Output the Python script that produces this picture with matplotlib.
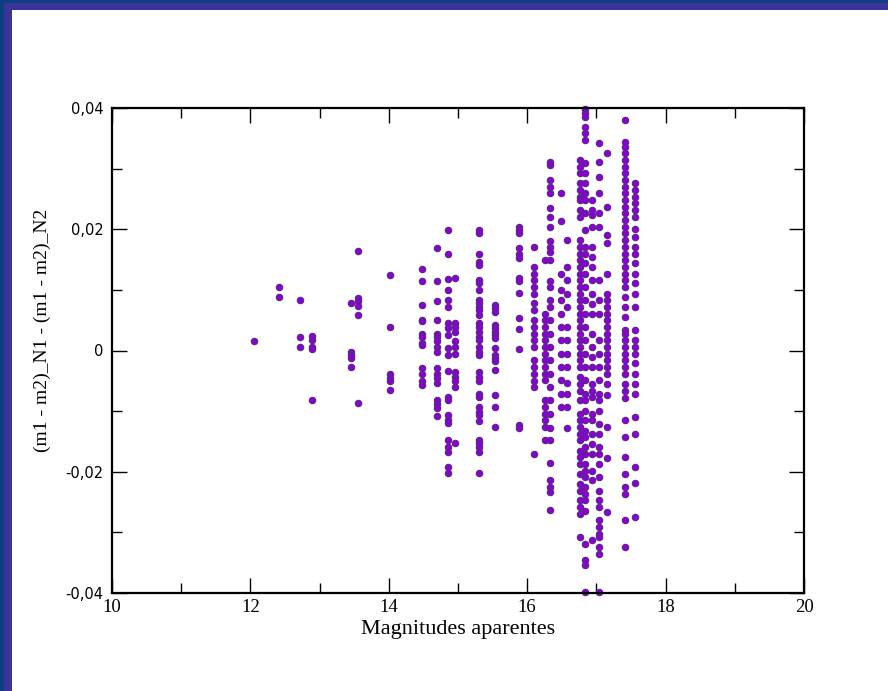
import matplotlib
matplotlib.use("Agg")
import matplotlib.pyplot as plt
from matplotlib.patches import Rectangle
from matplotlib.ticker import MultipleLocator, FixedLocator

plt.rcParams['font.family'] = ['Liberation Serif', 'DejaVu Serif']

# magnitude of each column of stars, and the differences measured in it
mag = [12.05, 12.41, 12.72, 12.89, 13.46, 13.56, 14.02, 14.48, 14.70, 14.86,
       14.96, 15.31, 15.54, 15.88, 16.10, 16.25, 16.33, 16.49, 16.57, 16.76,
       16.84, 16.93, 17.04, 17.16, 17.41, 17.56]

dy_1205 = [0.0015]
dy_1241 = [0.0104, 0.0089]
dy_1272 = [0.0083, 0.0022, 0.0006]
dy_1289 = [0.0024, 0.0017, 0.0006, 0.0002, -0.0081]
dy_1346 = [0.0078, -0.0002, -0.0007, -0.0013, -0.0027]
dy_1356 = [0.0164, 0.0086, 0.0081, 0.0073, 0.0059, -0.0087]
dy_1402 = [0.0125, 0.0039, -0.0038, -0.0045, -0.0051, -0.0065]
dy_1448 = [0.0134, 0.0115, 0.0075, 0.0050, 0.0048, 0.0028, 0.0023, 0.0012,
           0.0009, -0.0029, -0.0038, -0.0051, -0.0057]
dy_1470 = [0.0169, 0.0115, 0.0082, 0.0050, 0.0028, 0.0023, 0.0015, 0.0006,
           -0.0002, -0.0029, -0.0038, -0.0046, -0.0054, -0.0082, -0.0088,
           -0.0095, -0.0108]
dy_1486 = [0.0198, 0.0160, 0.0118, 0.0100, 0.0084, 0.0072, 0.0045, 0.0037,
           0.0026, 0.0004, -0.0007, -0.0033, -0.0076, -0.0082, -0.0106,
           -0.0115, -0.0120, -0.0148, -0.0159, -0.0168, -0.0192, -0.0202]
dy_1496 = [0.0119, 0.0045, 0.0039, 0.0031, 0.0015, 0.0006, -0.0005, -0.0035,
           -0.0043, -0.0051, -0.0060, -0.0153]
dy_1531 = [0.0198, 0.0193, 0.0160, 0.0146, 0.0141, 0.0116, 0.0111, 0.0100,
           0.0084, 0.0078, 0.0072, 0.0067, 0.0059, 0.0045, 0.0039, 0.0031,
           0.0023, 0.0017, 0.0006, -0.0002, -0.0007, -0.0035, -0.0043,
           -0.0051, -0.0071, -0.0076, -0.0093, -0.0101, -0.0106, -0.0117,
           -0.0148, -0.0153, -0.0159, -0.0167, -0.0202]
dy_1554 = [0.0075, 0.0070, 0.0064, 0.0042, 0.0037, 0.0031, 0.0026, 0.0020,
           0.0004, -0.0007, -0.0013, -0.0018, -0.0032, -0.0073, -0.0093,
           -0.0126]
dy_1588 = [0.0204, 0.0199, 0.0193, 0.0169, 0.0160, 0.0152, 0.0119, 0.0114,
           0.0095, 0.0053, 0.0035, 0.0002, -0.0123, -0.0128]
dy_1610 = [0.0171, 0.0138, 0.0127, 0.0116, 0.0105, 0.0094, 0.0078, 0.0067,
           0.0050, 0.0039, 0.0028, 0.0017, 0.0006, -0.0016, -0.0027, -0.0038,
           -0.0051, -0.0060, -0.0170]
dy_1625 = [0.0149, 0.0061, 0.0050, 0.0039, 0.0028, 0.0017, 0.0006, -0.0005,
           -0.0016, -0.0027, -0.0038, -0.0049, -0.0082, -0.0093, -0.0104,
           -0.0115, -0.0126, -0.0148]
dy_1633 = [0.0311, 0.0306, 0.0281, 0.0270, 0.0259, 0.0235, 0.0221, 0.0204,
           0.0180, 0.0171, 0.0163, 0.0149, 0.0114, 0.0105, 0.0083, 0.0072,
           0.0050, 0.0028, 0.0006, -0.0016, -0.0038, -0.0060, -0.0082,
           -0.0104, -0.0128, -0.0148, -0.0186, -0.0214, -0.0225, -0.0233,
           -0.0263]
dy_1649 = [0.0259, 0.0213, 0.0127, 0.0100, 0.0083, 0.0061, 0.0039, 0.0017,
           -0.0005, -0.0027, -0.0049, -0.0071, -0.0093]
dy_1657 = [0.0182, 0.0138, 0.0116, 0.0094, 0.0072, 0.0039, 0.0017, -0.0005,
           -0.0027, -0.0054, -0.0071, -0.0093, -0.0128]
dy_1676 = [0.0314, 0.0303, 0.0292, 0.0276, 0.0265, 0.0254, 0.0248, 0.0232,
           0.0221, 0.0182, 0.0171, 0.0160, 0.0149, 0.0138, 0.0127, 0.0116,
           0.0105, 0.0094, 0.0083, 0.0072, 0.0061, 0.0050, 0.0039, 0.0028,
           0.0017, 0.0006, -0.0005, -0.0016, -0.0027, -0.0044, -0.0055,
           -0.0066, -0.0082, -0.0104, -0.0115, -0.0126, -0.0137, -0.0148,
           -0.0165, -0.0176, -0.0187, -0.0203, -0.0220, -0.0231, -0.0247,
           -0.0258, -0.0269, -0.0308]
dy_1684 = [0.0398, 0.0392, 0.0385, 0.0369, 0.0358, 0.0347, 0.0309, 0.0292,
           0.0276, 0.0259, 0.0248, 0.0226, 0.0199, 0.0171, 0.0160, 0.0144,
           0.0127, 0.0105, 0.0083, 0.0061, 0.0039, 0.0017, -0.0005, -0.0027,
           -0.0049, -0.0071, -0.0082, -0.0099, -0.0115, -0.0132, -0.0143,
           -0.0159, -0.0170, -0.0187, -0.0198, -0.0209, -0.0225, -0.0236,
           -0.0247, -0.0264, -0.0319, -0.0346, -0.0354, -0.0398]
dy_1693 = [0.0248, 0.0232, 0.0223, 0.0204, 0.0171, 0.0155, 0.0138, 0.0116,
           0.0094, 0.0077, 0.0061, 0.0028, 0.0006, -0.0011, -0.0027, -0.0055,
           -0.0066, -0.0077, -0.0104, -0.0115, -0.0137, -0.0154, -0.0170,
           -0.0198, -0.0214, -0.0313]
dy_1704 = [0.0342, 0.0311, 0.0287, 0.0259, 0.0226, 0.0204, 0.0116, 0.0083,
           0.0061, 0.0017, -0.0005, -0.0027, -0.0049, -0.0071, -0.0082,
           -0.0099, -0.0121, -0.0137, -0.0159, -0.0170, -0.0187, -0.0209,
           -0.0231, -0.0247, -0.0258, -0.0280, -0.0291, -0.0302, -0.0307,
           -0.0324, -0.0335, -0.0398]
dy_1716 = [0.0325, 0.0237, 0.0191, 0.0177, 0.0127, 0.0094, 0.0083, 0.0072,
           0.0061, 0.0050, 0.0039, 0.0028, 0.0017, 0.0006, -0.0005, -0.0016,
           -0.0027, -0.0038, -0.0055, -0.0074, -0.0126, -0.0178, -0.0266]
dy_1741 = [0.0380, 0.0344, 0.0336, 0.0325, 0.0314, 0.0303, 0.0292, 0.0281,
           0.0270, 0.0259, 0.0248, 0.0237, 0.0226, 0.0215, 0.0204, 0.0193,
           0.0182, 0.0171, 0.0160, 0.0149, 0.0138, 0.0127, 0.0116, 0.0105,
           0.0089, 0.0072, 0.0055, 0.0034, 0.0028, 0.0017, 0.0006, -0.0005,
           -0.0016, -0.0027, -0.0038, -0.0055, -0.0066, -0.0079, -0.0115,
           -0.0143, -0.0176, -0.0203, -0.0225, -0.0236, -0.0280, -0.0324]
dy_1756 = [0.0276, 0.0265, 0.0254, 0.0243, 0.0232, 0.0221, 0.0200, 0.0188,
           0.0171, 0.0160, 0.0144, 0.0127, 0.0111, 0.0094, 0.0072, 0.0034,
           0.0017, 0.0006, -0.0005, -0.0021, -0.0038, -0.0055, -0.0071,
           -0.0109, -0.0137, -0.0192, -0.0219, -0.0274]

dy = [dy_1205, dy_1241, dy_1272, dy_1289, dy_1346, dy_1356, dy_1402, dy_1448,
      dy_1470, dy_1486, dy_1496, dy_1531, dy_1554, dy_1588, dy_1610, dy_1625,
      dy_1633, dy_1649, dy_1657, dy_1676, dy_1684, dy_1693, dy_1704, dy_1716,
      dy_1741, dy_1756]

y_ticks = [-0.04, -0.02, 0, 0.02, 0.04]
y_ticklabels = ['-0,04', '-0,02', '0', '0,02', '0,04']
x_ticks = [10, 12, 14, 16, 18, 20]

fig = plt.figure(figsize=(8.88, 6.91), dpi=100)
fig.patch.set_facecolor('white')

# blue frame on top and left edges of the slide
fig.add_artist(Rectangle((0, 1 - 10 / 691), 1, 10 / 691, transform=fig.transFigure,
                         facecolor='#3a3399', edgecolor='none'))
fig.add_artist(Rectangle((0, 0), 12 / 888, 1, transform=fig.transFigure,
                         facecolor='#3a3399', edgecolor='none'))
fig.add_artist(Rectangle((0, 0), 4 / 888, 1, transform=fig.transFigure,
                         facecolor='#0b3f7f', edgecolor='none'))
fig.add_artist(Rectangle((0, 1 - 3 / 691), 1, 3 / 691, transform=fig.transFigure,
                         facecolor='#0b3f7f', edgecolor='none'))

ax = fig.add_axes([112 / 888, 1 - 593 / 691, (804 - 112) / 888, (593 - 108) / 691])

for m, col in zip(mag, dy):
    ax.plot([m] * len(col), col, 'o', ms=4.6, mfc='#8c00d4', mec='#55288a',
            mew=0.8, clip_on=False)

ax.set_xlim(10, 20)
ax.set_ylim(-0.04, 0.04)
ax.xaxis.set_major_locator(FixedLocator(x_ticks))
ax.xaxis.set_minor_locator(MultipleLocator(1))
ax.set_yticks(y_ticks)
ax.set_yticklabels(y_ticklabels, fontfamily='DejaVu Sans', fontsize=10.5)
ax.yaxis.set_minor_locator(MultipleLocator(0.01))
ax.tick_params(which='both', direction='in', top=True, right=True,
               width=1.0, colors='black')
ax.tick_params(axis='x', labelsize=13.5, pad=4)
ax.tick_params(axis='y', pad=6)
ax.tick_params(which='major', length=10.5)
ax.tick_params(which='minor', length=7)
for s in ax.spines.values():
    s.set_linewidth(1.6)

ax.set_xlabel('Magnitudes aparentes', fontsize=16, labelpad=3)
ax.set_ylabel('(m1 - m2)_N1 - (m1 - m2)_N2', fontsize=14)
ax.yaxis.set_label_coords(-0.088, 0.542)

fig.savefig('out.png', dpi=100)
